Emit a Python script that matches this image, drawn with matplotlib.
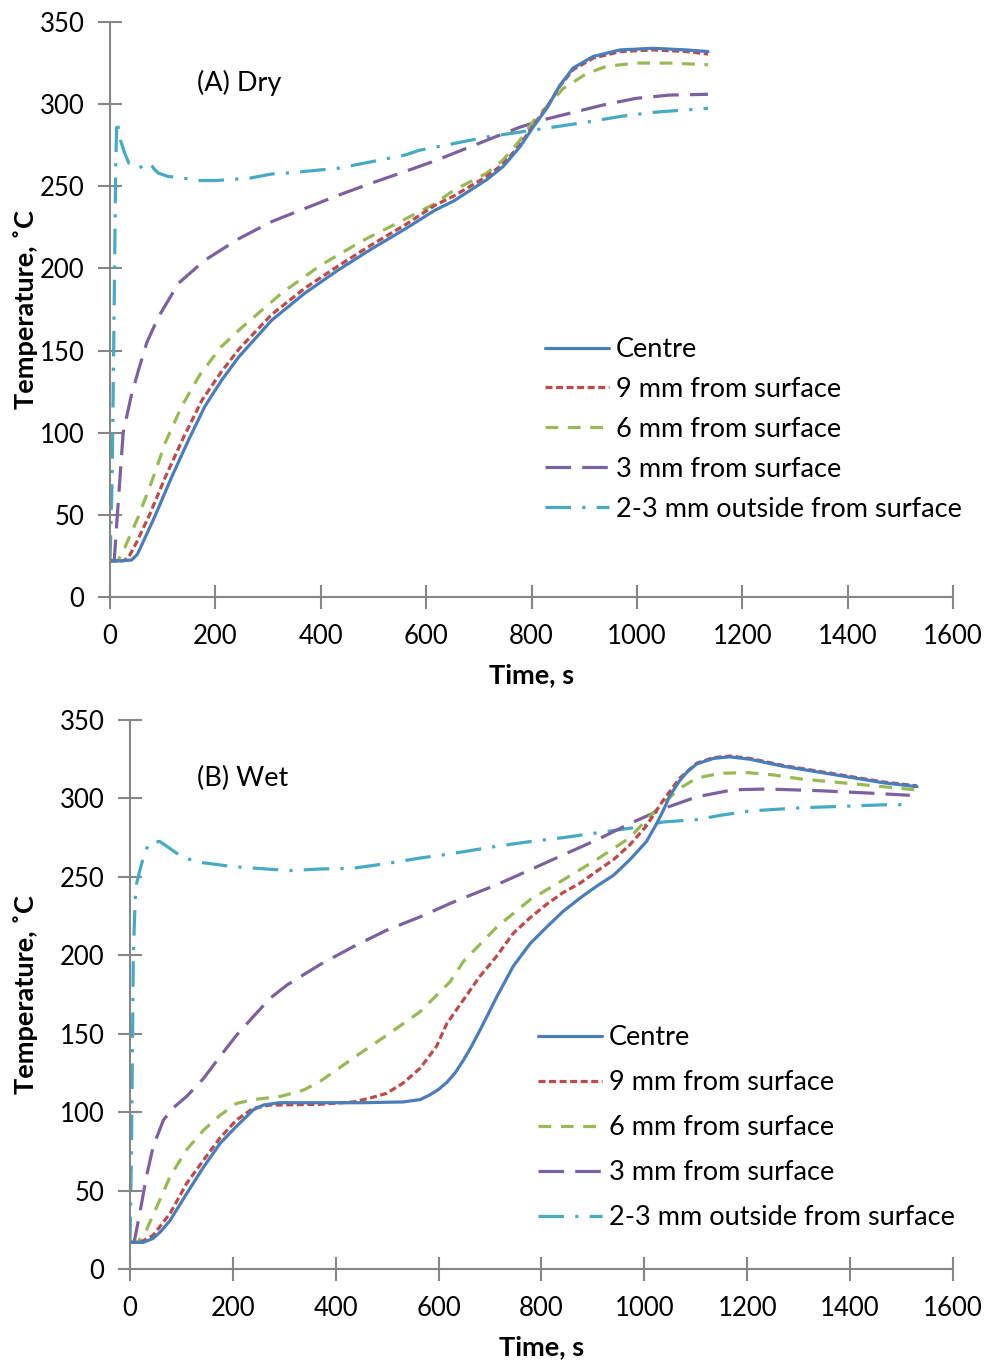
import numpy as np
import matplotlib
matplotlib.use("Agg")
import matplotlib.pyplot as plt

plt.rcParams['font.family'] = ['Lato', 'DejaVu Sans']

# ---- (A) dry: time (s) and temperature (C) for each probe ----
dry_centre_t = [0, 20, 41, 52, 65, 85, 117, 149, 180, 212, 244, 307, 370, 433, 497, 560, 617, 652, 715, 746, 778, 803, 829, 854, 879, 917, 968, 1031, 1094, 1135]
dry_centre_T = [22, 22, 22.5, 26, 35, 49, 73, 95.5, 116, 132, 146, 168.5, 185, 199, 212, 224, 235.5, 241, 254, 262, 274, 286, 297.5, 311.5, 322, 329, 333, 334, 333, 332]

dry_9mm_t = [0, 25, 35, 50, 75, 105, 140, 175, 210, 245, 307, 370, 433, 497, 560, 617, 652, 715, 746, 778, 803, 829, 854, 879, 917, 968, 1031, 1094, 1135]
dry_9mm_T = [22, 22, 24, 33, 50, 73, 97.5, 120, 136.5, 151, 172, 188, 201.5, 214.5, 226.5, 238.5, 244, 256, 263.5, 275, 287, 298, 311, 321, 328, 332, 333, 332, 330.5]

dry_6mm_t = [0, 15, 28, 54, 80, 105, 136, 170, 210, 250, 326, 400, 480, 560, 617, 652, 715, 746, 778, 809, 841, 860, 904, 942, 998, 1061, 1135]
dry_6mm_T = [22, 22, 30, 49, 71, 94, 116, 135, 152, 164, 185, 202, 217, 230, 239.5, 247.5, 258, 266, 278, 292, 302.5, 309.5, 318.5, 323, 325, 325, 324]

dry_3mm_t = [0, 8, 14.6, 25, 40, 54, 70, 92, 130, 180, 244, 307, 370, 433, 497, 560, 617, 652, 715, 778, 829, 873, 936, 998, 1061, 1135]
dry_3mm_T = [22, 22, 53, 100, 122, 138, 155, 170.5, 191, 205, 218, 228.5, 236.5, 244.5, 252, 259, 265.5, 270, 278, 286, 291, 294.5, 299.5, 303.5, 305.5, 306]

dry_out_t = [0, 4, 8, 11, 13, 16, 20, 28, 36, 44, 55, 65, 76, 85, 92, 110, 139, 170, 202, 266, 307, 335, 433, 497, 560, 588, 652, 715, 778, 841, 904, 968, 1031, 1135]
dry_out_T = [22, 70, 180, 265, 290, 285, 278, 270, 264, 263, 261, 263, 264, 260, 258, 256, 255, 253.5, 253.5, 255, 257.5, 258, 261, 265, 269, 272, 276, 280, 283, 286, 289, 292.5, 295, 297.5]

# ---- (B) wet ----
wet_centre_t = [0, 26, 45, 60, 78, 110, 143, 175, 207, 240, 259, 290, 350, 450, 531, 564, 583, 600, 616, 632, 648, 664, 680, 697, 713, 745, 778, 810, 842, 875, 907, 940, 972, 1004, 1024, 1037, 1050, 1069, 1085, 1102, 1134, 1166, 1205, 1270, 1335, 1400, 1464, 1530]
wet_centre_T = [17, 17, 19.5, 24, 31, 48, 65, 80, 91, 101.5, 104.5, 106, 106, 106, 106.5, 108, 111, 114.5, 119, 125, 133, 142, 152, 163, 173.5, 193, 207.5, 218, 228, 236.5, 244, 251, 261, 272.5, 284, 292.5, 302, 311.5, 317.5, 322, 325.5, 326.5, 325, 320.5, 317, 313.5, 310, 307.5]

wet_9mm_t = [0, 20, 45, 78, 110, 143, 175, 207, 240, 272, 369, 434, 467, 499, 531, 564, 596, 616, 648, 680, 713, 745, 778, 810, 842, 875, 907, 940, 972, 1004, 1037, 1069, 1102, 1134, 1166, 1205, 1270, 1335, 1400, 1464, 1530]
wet_9mm_T = [17, 17, 21.5, 35.5, 54.5, 69.5, 83.5, 95, 102.5, 104.5, 105, 106.5, 109, 112, 118.5, 128, 142, 156.5, 171.5, 186.5, 199.5, 214, 224, 232.5, 240, 246, 253.5, 261, 270.5, 282.5, 299, 313, 322.5, 326, 327, 325.5, 321, 317.5, 314, 310.5, 308]

wet_6mm_t = [0, 15, 32, 58, 78, 110, 143, 175, 207, 240, 292, 337, 369, 402, 434, 499, 564, 622, 648, 713, 778, 842, 907, 972, 1004, 1037, 1069, 1102, 1147, 1200, 1250, 1302, 1367, 1432, 1526]
wet_6mm_T = [17, 17, 25, 44, 59, 76, 88.5, 98, 105.5, 108, 110, 114, 119.5, 127, 134.5, 149, 164, 183, 196, 218, 235.5, 248, 261, 275, 286.5, 297, 306.5, 313, 316, 316.5, 315, 312.5, 310.5, 308.5, 305.5]

wet_3mm_t = [0, 8, 19, 32, 45, 65, 85, 110, 143, 175, 207, 240, 272, 305, 369, 434, 499, 564, 622, 648, 713, 778, 842, 907, 972, 1037, 1102, 1172, 1237, 1335, 1432, 1516]
wet_3mm_T = [17, 17, 35.5, 59, 78, 95, 103, 110, 121.5, 135.5, 149, 161, 172.5, 181, 194, 205.5, 216, 224.5, 233, 236.5, 245, 254.5, 264, 273.5, 284, 293.5, 301, 305.5, 306, 305, 303.5, 302]

wet_out_t = [0, 3, 6.5, 10, 13, 19, 29, 39, 58, 78, 100, 130, 201, 266, 311, 369, 434, 499, 564, 609, 648, 713, 778, 842, 907, 972, 1037, 1102, 1153, 1205, 1302, 1387, 1471, 1516]
wet_out_T = [17, 80, 201, 235, 246, 254, 266, 272, 272.5, 268, 263, 259.5, 256.5, 255, 254, 255, 255.5, 258.5, 262, 264, 266, 269.5, 272.5, 275, 278, 281, 285, 286.5, 289.5, 292, 294, 295, 296, 296]

labels = ['Centre', '9 mm from surface', '6 mm from surface', '3 mm from surface',
          '2-3 mm outside from surface']
colors = ['#4A7EBB', '#BE4B48', '#98B954', '#7D60A0', '#46AAC5']
dashes = [None, (2.2, 1.1), (4, 3), (8, 3.5), (8, 3.5, 1, 3.5)]

dry = [(dry_centre_t, dry_centre_T), (dry_9mm_t, dry_9mm_T), (dry_6mm_t, dry_6mm_T),
       (dry_3mm_t, dry_3mm_T), (dry_out_t, dry_out_T)]
wet = [(wet_centre_t, wet_centre_T), (wet_9mm_t, wet_9mm_T), (wet_6mm_t, wet_6mm_T),
       (wet_3mm_t, wet_3mm_T), (wet_out_t, wet_out_T)]

W, H = 987, 1365
fig = plt.figure(figsize=(W / 100, H / 100), dpi=100)

def box(x0, y0, x1, y1):
    # pixel corners -> figure fraction
    return [x0 / W, 1 - y1 / H, (x1 - x0) / W, (y1 - y0) / H]

ax1 = fig.add_axes(box(110, 22, 953, 597))
ax2 = fig.add_axes(box(130, 720, 953, 1269))

grey = '#868686'
fs = 19.5

def draw(ax, data, title, title_xy, leg_xy, leg_space):
    order = [4, 3, 2, 1, 0]
    handles = [None] * 5
    for i in order:
        t, T = data[i]
        ln, = ax.plot(t, T, color=colors[i], lw=2.3, label=labels[i],
                      solid_capstyle='round', dash_capstyle='butt')
        if dashes[i] is not None:
            ln.set_dashes(dashes[i])
        handles[i] = ln
    ax.set_xlim(0, 1600)
    ax.set_ylim(0, 350)
    ax.set_xticks(np.arange(0, 1601, 200))
    ax.set_yticks(np.arange(0, 351, 50))
    for s in ['top', 'right']:
        ax.spines[s].set_visible(False)
    for s in ['left', 'bottom']:
        ax.spines[s].set_color(grey)
        ax.spines[s].set_linewidth(1.5)
    ax.tick_params(direction='inout', length=17, width=1.5, color=grey,
                   labelsize=18.5)
    ax.tick_params(axis='x', pad=11)
    ax.tick_params(axis='y', pad=10)
    ax.set_xlabel('Time, s', fontsize=fs, fontweight='bold', labelpad=10)
    ax.set_ylabel('Temperature, ˚C', fontsize=fs, fontweight='bold')
    ax.text(title_xy[0], title_xy[1], title, fontsize=fs, va='center', ha='left')
    ax.legend(handles=handles, labels=labels, loc='upper left',
              bbox_to_anchor=(leg_xy[0] / W, 1 - leg_xy[1] / H),
              bbox_transform=fig.transFigure, frameon=False, fontsize=fs,
              handlelength=2.35, handletextpad=0.27, labelspacing=leg_space,
              borderpad=0, borderaxespad=0)

draw(ax1, dry, '(A) Dry', (165, 313), (545, 337), 0.55)
draw(ax2, wet, '(B) Wet', (130, 313), (538, 1025), 0.74)

ax1.yaxis.set_label_coords(-72 / 843, 0.5)
ax2.yaxis.set_label_coords(-92 / 823, 0.5)

fig.savefig('out.png', dpi=100)
